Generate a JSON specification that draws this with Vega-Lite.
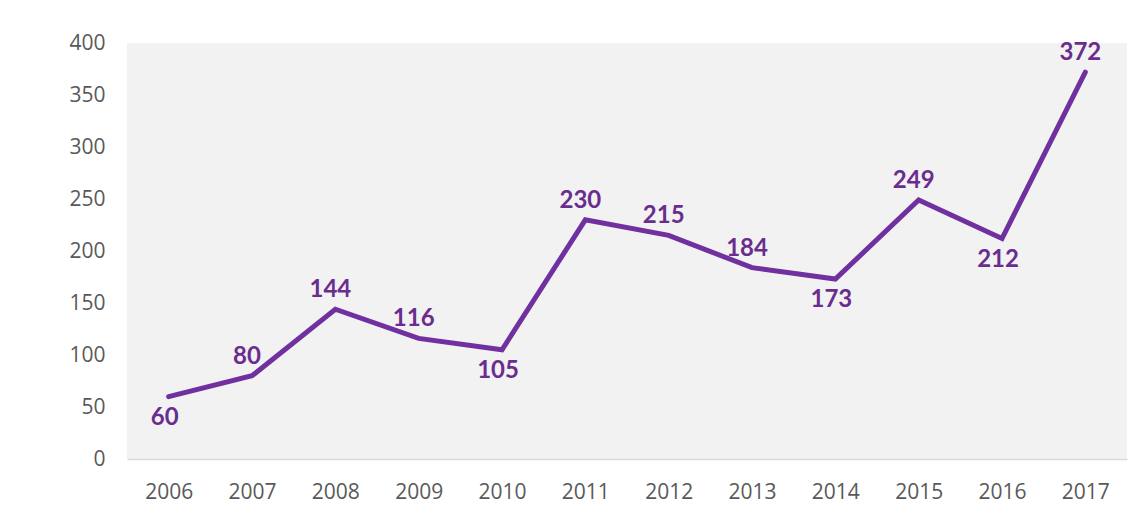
{
  "$schema": "https://vega.github.io/schema/vega-lite/v6.json",
  "width": 1000,
  "height": 416,
  "autosize": {"type": "none"},
  "padding": {"left": 127, "top": 43, "right": 16, "bottom": 47},
  "background": "white",
  "config": {
    "view": {"fill": "#f2f2f2", "stroke": null},
    "axis": {"labelFont": "Open Sans", "labelColor": "#595959", "labelFontSize": 21, "title": null, "ticks": false, "grid": false}
  },
  "data": {
    "values": [
      {"year": "2006", "value": 60},
      {"year": "2007", "value": 80},
      {"year": "2008", "value": 144},
      {"year": "2009", "value": 116},
      {"year": "2010", "value": 105},
      {"year": "2011", "value": 230},
      {"year": "2012", "value": 215},
      {"year": "2013", "value": 184},
      {"year": "2014", "value": 173},
      {"year": "2015", "value": 249},
      {"year": "2016", "value": 212},
      {"year": "2017", "value": 372}
    ]
  },
  "encoding": {
    "x": {
      "field": "year", "type": "ordinal",
      "scale": {"type": "point", "padding": 0.5},
      "axis": {"labelAngle": 0, "domain": true, "domainColor": "#d9d9d9", "domainWidth": 1.5, "labelPadding": 22}
    },
    "y": {
      "field": "value", "type": "quantitative",
      "scale": {"domain": [0, 400], "nice": false},
      "axis": {"values": [0, 50, 100, 150, 200, 250, 300, 350, 400], "domain": false, "labelPadding": 22}
    }
  },
  "layer": [
    {"mark": {"type": "line", "color": "#7030a0", "strokeWidth": 5, "strokeCap": "round", "strokeJoin": "miter"}},
    {
      "transform": [{"filter": {"not": {"field": "year", "oneOf": ["2006", "2010", "2014", "2016"]}}}],
      "mark": {"type": "text", "font": "Lato", "fontWeight": "bold", "fontSize": 24, "color": "#6a2c8e", "baseline": "middle", "dy": -19, "dx": -5},
      "encoding": {"text": {"field": "value", "type": "quantitative"}}
    },
    {
      "transform": [{"filter": {"field": "year", "oneOf": ["2006", "2010", "2014", "2016"]}}],
      "mark": {"type": "text", "font": "Lato", "fontWeight": "bold", "fontSize": 24, "color": "#6a2c8e", "baseline": "middle", "dy": 21, "dx": -4},
      "encoding": {"text": {"field": "value", "type": "quantitative"}}
    }
  ]
}
